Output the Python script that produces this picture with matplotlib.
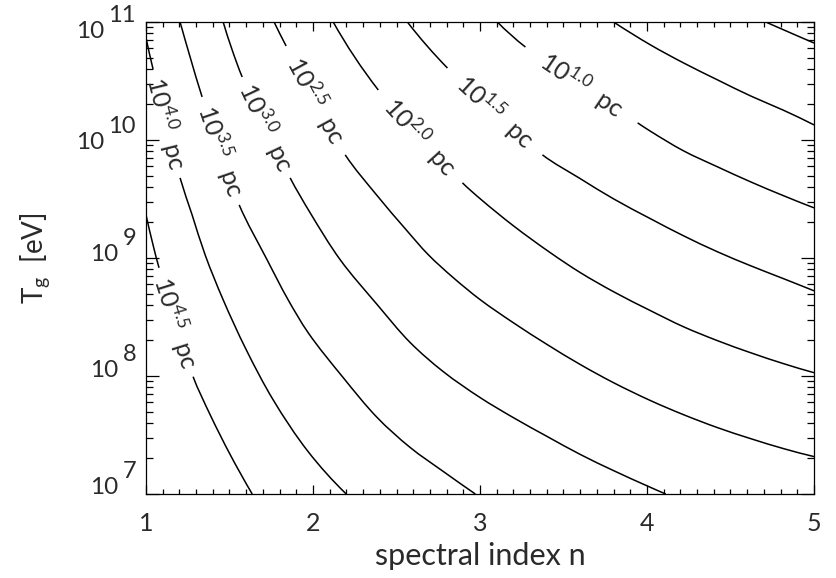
import numpy as np
import matplotlib
matplotlib.use("Agg")
import matplotlib.pyplot as plt
from matplotlib.ticker import FixedLocator, MultipleLocator, LogLocator, FuncFormatter, NullFormatter
from matplotlib.path import Path
from matplotlib.patches import PathPatch

plt.rcParams['font.family'] = ['Lato', 'DejaVu Sans']
plt.rcParams['font.weight'] = 'normal'
plt.rcParams['mathtext.fontset'] = 'custom'
plt.rcParams['mathtext.rm'] = 'Lato'
plt.rcParams['mathtext.it'] = 'Lato'
plt.rcParams['mathtext.default'] = 'regular'

# ---------------- data ----------------
x_ticks = [1, 2, 3, 4, 5]
y_tick_exponents = [7, 8, 9, 10, 11]
x_label = "spectral index n"
y_label = "T$_g$  [eV]"

contour_levels = [4.5, 4.0, 3.5, 3.0, 2.5, 2.0, 1.5, 1.0, 0.5, 0.0]

# traced contour lines: spectral index n and log10(T_g / eV)
c45_n    = [1.000, 1.042, 1.078, 1.282, 1.384, 1.504, 1.636]
c45_logT = [9.366, 9.112, 8.917, 7.994, 7.672, 7.334, 7.000]

c40_n    = [1.000, 1.042, 1.204, 1.276, 1.354, 1.462, 1.600, 1.761, 1.971, 2.199]
c40_logT = [10.865, 10.602, 9.679, 9.366, 9.027, 8.646, 8.223, 7.799, 7.359, 7.000]

c35_n    = [1.204, 1.264, 1.336, 1.558, 1.725, 1.851, 1.971, 2.181, 2.385, 2.583, 2.781, 2.972]
c35_logT = [11.000, 10.704, 10.365, 9.450, 8.985, 8.646, 8.367, 7.986, 7.647, 7.393, 7.190, 7.000]

c30_n    = [1.462, 1.516, 1.576, 1.863, 1.983, 2.163, 2.385, 2.583, 2.781, 3.002, 3.200, 3.404,
            3.602, 3.800, 4.010, 4.112]
c30_logT = [11.000, 10.763, 10.534, 9.679, 9.383, 8.985, 8.604, 8.282, 8.036, 7.816, 7.647, 7.486,
            7.334, 7.198, 7.063, 7.000]

c25_n    = [1.767, 1.839, 2.193, 2.385, 2.553, 2.691, 2.841, 3.002, 3.200, 3.404, 3.602, 3.800,
            4.022, 4.219, 4.423, 4.621, 4.819, 5.000]
c25_logT = [11.000, 10.797, 9.874, 9.527, 9.247, 9.027, 8.832, 8.646, 8.451, 8.265, 8.096, 7.943,
            7.791, 7.672, 7.562, 7.469, 7.384, 7.317]

c20_n    = [2.121, 2.391, 2.895, 3.002, 3.200, 3.422, 3.602, 3.800, 4.022, 4.219, 4.423, 4.621,
            4.819, 5.000]
c20_logT = [11.000, 10.424, 9.637, 9.501, 9.273, 9.044, 8.875, 8.714, 8.553, 8.417, 8.299, 8.197,
            8.104, 8.028]

c15_n    = [2.565, 2.805, 3.374, 3.602, 3.800, 4.022, 4.219, 4.423, 4.621, 4.819, 5.000]
c15_logT = [11.000, 10.610, 9.874, 9.671, 9.501, 9.332, 9.188, 9.052, 8.934, 8.824, 8.722]

c10_n    = [3.104, 3.272, 3.944, 4.022, 4.219, 4.423, 4.621, 4.819, 5.000]
c10_logT = [11.000, 10.788, 10.145, 10.073, 9.908, 9.772, 9.645, 9.527, 9.425]

c05_n    = [3.800, 4.022, 4.219, 4.423, 4.621, 4.819, 5.000]
c05_logT = [11.000, 10.805, 10.653, 10.509, 10.373, 10.251, 10.128]

c00_n    = [4.711, 4.861, 5.000]
c00_logT = [11.000, 10.907, 10.822]

contour_n = [c45_n, c40_n, c35_n, c30_n, c25_n, c20_n, c15_n, c10_n, c05_n, c00_n]
contour_logT = [c45_logT, c40_logT, c35_logT, c30_logT, c25_logT, c20_logT,
                c15_logT, c10_logT, c05_logT, c00_logT]
# label sits in the gap after this point index (None = unlabelled)
label_gap = [2, 1, 2, 2, 1, 1, 1, 1, None, None]

# ---------------- figure ----------------
W, H = 836, 578
fig = plt.figure(figsize=(W / 100, H / 100), dpi=100)
x0, x1, ytop, ybot = 146, 814, 22, 494
ax = fig.add_axes([x0 / W, (H - ybot) / H, (x1 - x0) / W, (ybot - ytop) / H])

ax.set_xlim(1, 5)
ax.set_yscale('log')
ax.set_ylim(1e7, 1e11)

txt_color = '#2a2a2a'
fs = 17

for s in ax.spines.values():
    s.set_linewidth(0.9)
    s.set_color('black')

ax.xaxis.set_major_locator(FixedLocator(x_ticks))
ax.xaxis.set_minor_locator(MultipleLocator(0.1))
ax.yaxis.set_major_locator(FixedLocator([10.0 ** e for e in y_tick_exponents]))
ax.yaxis.set_minor_locator(LogLocator(base=10, subs=np.arange(2, 10)))
ax.yaxis.set_minor_formatter(NullFormatter())
ax.yaxis.set_major_formatter(NullFormatter())
ax.xaxis.set_major_formatter(FuncFormatter(lambda v, p: "%d" % v))

ax.tick_params(axis='both', which='both', direction='in', top=True, right=True,
               colors='black', labelcolor=txt_color, labelsize=fs + 1, width=0.9)
ax.tick_params(axis='x', which='major', length=6.8, pad=13)
ax.tick_params(axis='x', which='minor', length=3.4)
ax.tick_params(axis='y', which='major', length=9.6, pad=9)
ax.tick_params(axis='y', which='minor', length=4.8)

ax.set_xlabel(x_label, fontsize=22, color=txt_color, labelpad=5)
ax.set_ylabel(y_label, fontsize=20, color=txt_color, labelpad=59)

# y tick labels: "10" with a large exponent (baseline shift in pixels per label)
base_shift = {11: 16, 10: 9, 9: 3, 8: 1, 7: 0}
fig.canvas.draw()
rend = fig.canvas.get_renderer()
for e in y_tick_exponents:
    yv = 10.0 ** e
    b = base_shift[e]
    te = ax.annotate(str(e), xy=(0, yv), xycoords=('axes fraction', 'data'),
                     xytext=(-10, 16 - b), textcoords='offset pixels', ha='right',
                     va='baseline', fontsize=17, color=txt_color, annotation_clip=False)
    w = te.get_window_extent(rend).width
    ax.annotate('10', xy=(0, yv), xycoords=('axes fraction', 'data'),
                xytext=(-10 - w - 4, -b), textcoords='offset pixels', ha='right',
                va='baseline', fontsize=fs + 0.5, color=txt_color, annotation_clip=False)


def unit(v):
    n = np.hypot(v[0], v[1])
    return v / n if n > 0 else v


def contour_path(ns, ts, gap):
    P = ax.transData.transform(np.column_stack([ns, ts]))
    m = len(P)
    U = np.zeros_like(P)
    for i in range(1, m - 1):
        U[i] = unit(unit(P[i + 1] - P[i]) + unit(P[i] - P[i - 1]))
    if m > 2:
        U[0] = unit(2 * unit(P[1] - P[0]) - U[1])
        U[-1] = unit(2 * unit(P[-1] - P[-2]) - U[-2])
    else:
        U[0] = U[-1] = unit(P[1] - P[0])
    verts = [P[0]]
    codes = [Path.MOVETO]
    for i in range(m - 1):
        if gap is not None and i == gap:
            verts.append(P[i + 1])
            codes.append(Path.MOVETO)
            continue
        L = np.hypot(*(P[i + 1] - P[i]))
        verts += [P[i] + U[i] * L / 3, P[i + 1] - U[i + 1] * L / 3, P[i + 1]]
        codes += [Path.CURVE4] * 3
    verts = ax.transData.inverted().transform(np.array(verts))
    return Path(verts, codes)


for lev, ns, lts, gap in zip(contour_levels, contour_n, contour_logT, label_gap):
    ns = np.asarray(ns)
    ts = 10.0 ** np.asarray(lts)
    patch = PathPatch(contour_path(ns, ts, gap), facecolor='none', edgecolor='black',
                      lw=1.1, capstyle='butt')
    ax.add_patch(patch)
    if gap is None:
        continue
    p0 = ax.transData.transform((ns[gap], ts[gap]))
    p1 = ax.transData.transform((ns[gap + 1], ts[gap + 1]))
    mid = ax.transData.inverted().transform((p0 + p1) / 2)
    ang = np.degrees(np.arctan2(p1[1] - p0[1], p1[0] - p0[0]))
    ax.text(mid[0], mid[1], "10$^{%.1f}$  pc" % lev, rotation=ang,
            rotation_mode='anchor', ha='center', va='center',
            fontsize=18, color=txt_color)

fig.savefig("out.png", dpi=100)
